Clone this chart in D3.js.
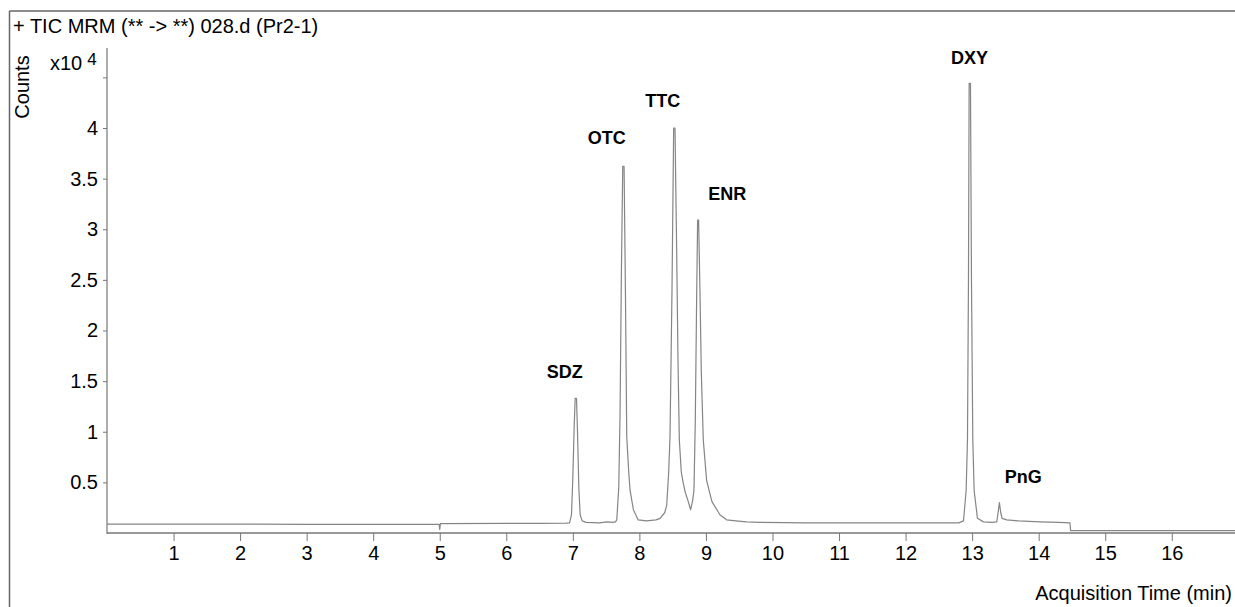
<!DOCTYPE html>
<html>
<head>
<meta charset="utf-8">
<script src="https://cdn.jsdelivr.net/npm/d3@7/dist/d3.min.js"></script>
<style>
  html, body { margin: 0; padding: 0; background: #fff; }
  svg { display: block; }
  text { font-family: "Liberation Sans", Arial, sans-serif; fill: #000; }
</style>
</head>
<body>
<svg id="chart" width="1235" height="607"></svg>
<script>
// ---- Data (time in min, counts in units of 10^4) ----
const times = [
  0.0, 1.0, 2.0, 3.0, 4.0, 4.99, 5.0, 5.01, 6.0, 6.5, 6.9,
  6.95, 6.98, 7.0, 7.02, 7.035, 7.055, 7.07, 7.09, 7.11, 7.14, 7.2, 7.4, 7.51, 7.6, 7.64,
  7.66, 7.69, 7.71, 7.73, 7.75, 7.77, 7.79, 7.81, 7.84, 7.86, 7.91, 7.98, 8.11, 8.25, 8.31, 8.38,
  8.41, 8.44, 8.46, 8.49, 8.515, 8.535, 8.56, 8.58, 8.6, 8.63, 8.66, 8.69, 8.73, 8.77,
  8.80, 8.82, 8.84, 8.86, 8.875, 8.89, 8.91, 8.93, 8.96, 9.01, 9.09, 9.21, 9.31, 9.45, 9.61, 9.81,
  10.5, 11.0, 11.5, 12.0, 12.5, 12.8,
  12.87, 12.91, 12.93, 12.945, 12.955, 12.975, 12.99, 13.01, 13.03, 13.08, 13.17, 13.3,
  13.37, 13.39, 13.41, 13.43, 13.45, 13.52, 13.7, 14.02, 14.3, 14.47,
  14.48, 15.0, 16.0, 16.95
];
const counts = [
  0.087, 0.087, 0.087, 0.086, 0.086, 0.086, 0.035, 0.092, 0.096, 0.096, 0.098,
  0.10, 0.18, 0.55, 1.05, 1.33, 1.33, 1.0, 0.45, 0.18, 0.12, 0.105, 0.10, 0.11, 0.105, 0.11,
  0.13, 0.45, 1.2, 2.6, 3.62, 3.62, 2.4, 0.95, 0.6, 0.42, 0.23, 0.13, 0.12, 0.13, 0.145, 0.2,
  0.27, 0.6, 0.95, 2.4, 4.0, 4.0, 2.8, 1.71, 0.92, 0.6, 0.49, 0.4, 0.32, 0.23,
  0.32, 0.42, 1.1, 2.3, 3.09, 3.09, 2.4, 1.6, 0.92, 0.52, 0.31, 0.18, 0.13, 0.12, 0.11, 0.105,
  0.10, 0.10, 0.10, 0.10, 0.10, 0.10,
  0.12, 0.42, 0.92, 2.5, 4.44, 4.44, 2.5, 0.92, 0.42, 0.145, 0.11, 0.105,
  0.11, 0.2, 0.30, 0.2, 0.145, 0.13, 0.12, 0.11, 0.105, 0.10,
  0.023, 0.023, 0.023, 0.023
];

// Peak annotations (label anchor in data coordinates)
const peakNames  = ["SDZ", "OTC", "TTC", "ENR", "DXY", "PnG"];
const peakLabelT = [6.88, 7.51, 8.35, 9.32, 12.96, 13.77];
const peakLabelV = [1.53, 3.84, 4.21, 3.29, 4.63, 0.49];

const xTicks = [1, 2, 3, 4, 5, 6, 7, 8, 9, 10, 11, 12, 13, 14, 15, 16];
const yTicks = [0.5, 1, 1.5, 2, 2.5, 3, 3.5, 4, 4.5];
const yTickLabels = ["0.5", "1", "1.5", "2", "2.5", "3", "3.5", "4", ""];

const titleText = "+ TIC MRM (** -> **) 028.d (Pr2-1)";
const yLabel = "Counts";
const xLabel = "Acquisition Time (min)";

// ---- Drawing ----
const svg = d3.select("#chart");
const W = 1235, H = 607;
const plot = { left: 107, right: 1235, top: 48, bottom: 533 };

const x = d3.scaleLinear().domain([0, 16.95]).range([plot.left, plot.right]);
const y = d3.scaleLinear().domain([0, 4.79]).range([plot.bottom, plot.top]);

const axisColor = "#777";

// outer frame (top and left)
svg.append("line").attr("x1", 9.5).attr("x2", W).attr("y1", 11).attr("y2", 11)
  .attr("stroke", "#666").attr("stroke-width", 1.5);
svg.append("line").attr("x1", 9.5).attr("x2", 9.5).attr("y1", 11).attr("y2", H)
  .attr("stroke", "#666").attr("stroke-width", 1.5);

// title
svg.append("text").attr("x", 13).attr("y", 33)
  .attr("font-size", 20).text(titleText);

// y axis
const yAxis = d3.axisLeft(y).tickValues(yTicks)
  .tickFormat((d, i) => yTickLabels[i]).tickSize(4).tickPadding(5);
const gy = svg.append("g").attr("transform", `translate(${plot.left},0)`).call(yAxis);
gy.select(".domain").remove();
gy.append("line").attr("x1", 0).attr("x2", 0).attr("y1", plot.top).attr("y2", plot.bottom + 1)
  .attr("stroke", axisColor).attr("stroke-width", 1.2);
gy.selectAll(".tick line").attr("stroke", axisColor);
gy.selectAll(".tick text").attr("font-size", 20).attr("fill", "#000")
  .attr("font-family", "Liberation Sans, Arial, sans-serif");

// x axis
const xAxis = d3.axisBottom(x).tickValues(xTicks).tickFormat(d3.format("d"))
  .tickSize(8).tickPadding(5);
const gx = svg.append("g").attr("transform", `translate(0,${plot.bottom})`).call(xAxis);
gx.select(".domain").remove();
gx.append("line").attr("x1", plot.left).attr("x2", plot.right).attr("y1", 0).attr("y2", 0)
  .attr("stroke", axisColor).attr("stroke-width", 1.5);
gx.selectAll(".tick line").attr("stroke", axisColor);
gx.selectAll(".tick text").attr("font-size", 20).attr("fill", "#000")
  .attr("font-family", "Liberation Sans, Arial, sans-serif");

// axis labels
svg.append("text").attr("transform", "translate(28.5,87) rotate(-90)")
  .attr("text-anchor", "middle").attr("font-size", 20).text(yLabel);
const mult = svg.append("text").attr("x", 50).attr("y", 70).attr("font-size", 20);
mult.append("tspan").text("x10");
mult.append("tspan").attr("dx", 5).attr("dy", -5).attr("font-size", 17).text("4");

svg.append("text").attr("x", 1232).attr("y", 600).attr("text-anchor", "end")
  .attr("font-size", 20).text(xLabel);

// chromatogram trace
const pts = times.map((t, i) => [t, counts[i]]);
const line = d3.line().x(d => x(d[0])).y(d => y(d[1]));
svg.append("path").datum(pts).attr("d", line)
  .attr("fill", "none").attr("stroke", "#858585").attr("stroke-width", 1.2)
  .attr("stroke-linejoin", "round");

// peak labels
svg.selectAll(".peak").data(peakNames).enter().append("text")
  .attr("class", "peak")
  .attr("x", (d, i) => x(peakLabelT[i]))
  .attr("y", (d, i) => y(peakLabelV[i]))
  .attr("text-anchor", "middle")
  .attr("font-family", "Open Sans, sans-serif")
  .attr("font-weight", "bold").attr("font-size", 18)
  .text(d => d);
</script>
</body>
</html>
